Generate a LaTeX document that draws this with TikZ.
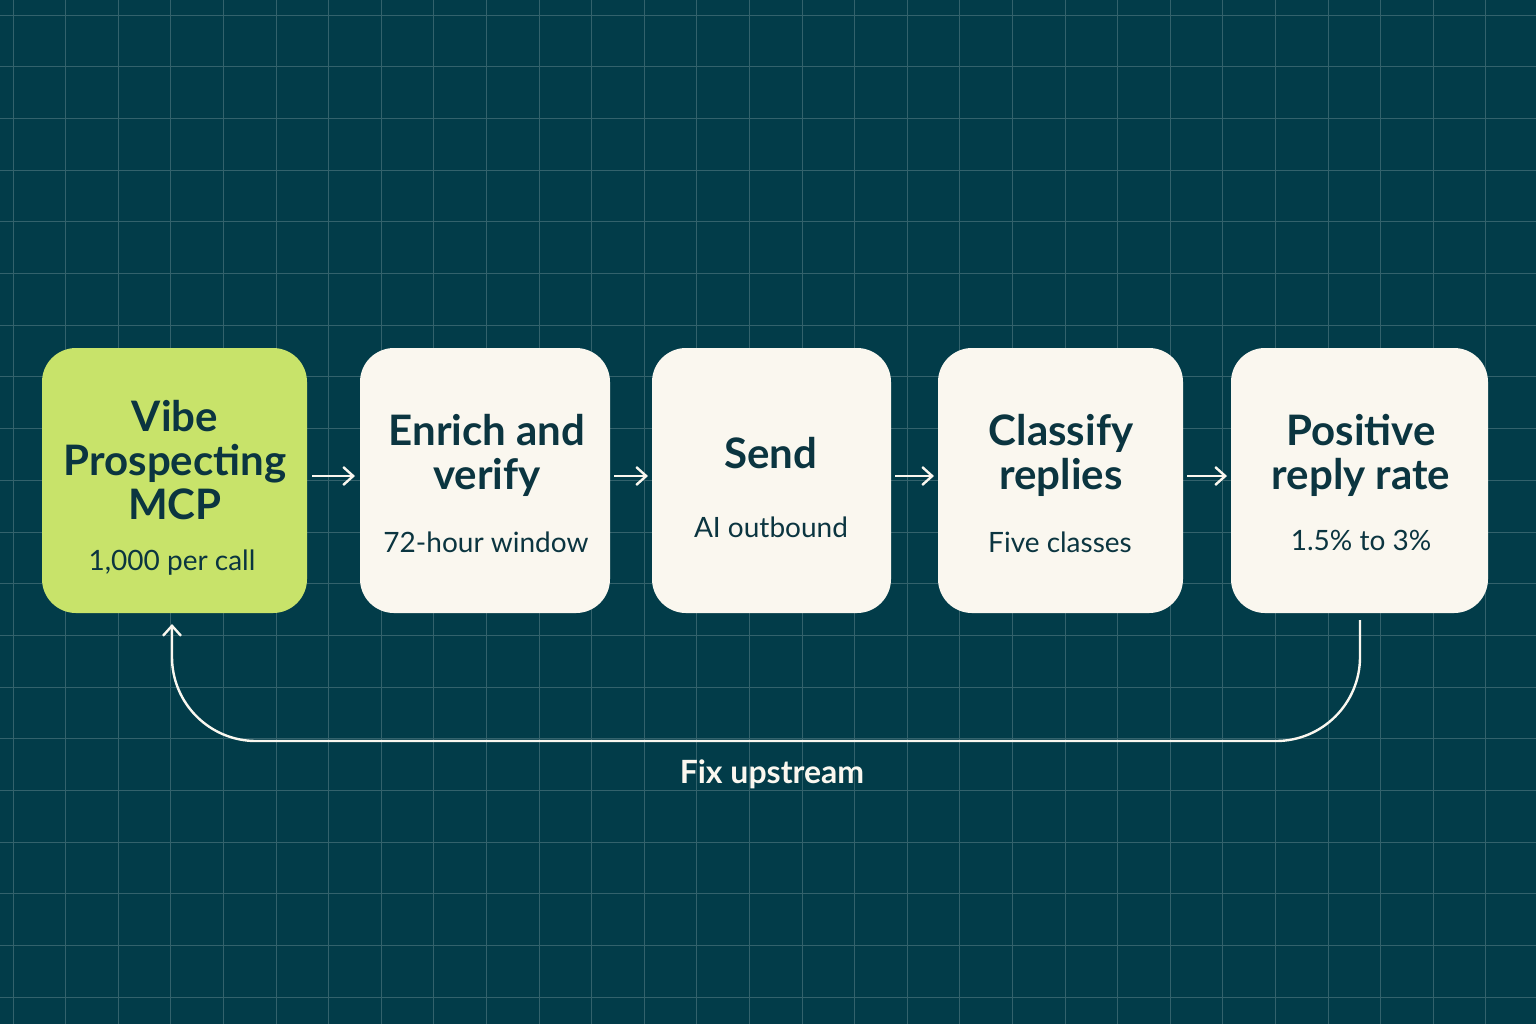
\documentclass[tikz,border=0pt]{standalone}
\usepackage{fontspec}
\setmainfont{Lato}
\usetikzlibrary{arrows.meta}
\definecolor{bg}{HTML}{023C49}
\definecolor{gridc}{HTML}{33626C}
\definecolor{cream}{HTML}{FAF7EF}
\definecolor{lime}{HTML}{C8E36A}
\definecolor{ink}{HTML}{0B3540}
\begin{document}
\begin{tikzpicture}[x=0.5pt,y=-0.5pt,
  box/.style={draw=none,fill=cream,rounded corners=17pt,inner sep=0pt},
  ttl/.style={font=\fontsize{21}{22}\selectfont\bfseries,text=ink,align=center},
  sub/.style={font=\fontsize{14}{16}\selectfont,text=ink,align=center},
  arr/.style={draw=cream,line width=1.2pt,-{Straight Barb[length=5pt,width=9pt]}}]
\fill[bg] (0,0) rectangle (1536,1024);
\useasboundingbox (0,0) rectangle (1536,1024);
\foreach \i in {0,...,29} \draw[gridc,line width=0.5pt] (13+52.6*\i,0) -- (13+52.6*\i,1024);
\foreach \j in {0,...,19} \draw[gridc,line width=0.5pt] (0,15+51.7*\j) -- (1536,15+51.7*\j);
\path[box,fill=lime] (42,348) rectangle (307,613);
\path[box] (360,348) rectangle (610,613);
\path[box] (652,348) rectangle (891,613);
\path[box] (938,348) rectangle (1183,613);
\path[box] (1231,348) rectangle (1488,613);
\node[ttl] (t1) at (175,460) {Vibe\\Prospecting\\MCP};
\node[sub] (s1) at (172,563) {1,000 per call};
\node[ttl] (t2) at (487,455) {Enrich and\\verify};
\node[sub] (s2) at (486,542) {72-hour window};
\node[ttl] (t3) at (771,453) {Send};
\node[sub] (s3) at (771,527) {AI outbound};
\node[ttl] (t4) at (1061,455) {Classify\\replies};
\node[sub] (s4) at (1060,542) {Five classes};
\node[ttl] (t5) at (1361,455) {Positive\\reply rate};
\node[sub] (s5) at (1361,540) {1.5\% to 3\%};
\coordinate (a1) at (312,476); \coordinate (b1) at (355,476);
\coordinate (a2) at (614,476); \coordinate (b2) at (648,476);
\coordinate (a3) at (895,476); \coordinate (b3) at (934,476);
\coordinate (a4) at (1187,476); \coordinate (b4) at (1227,476);
\draw[arr] (a1) -- (b1);
\draw[arr] (a2) -- (b2);
\draw[arr] (a3) -- (b3);
\draw[arr] (a4) -- (b4);
\coordinate (f0) at (1360,620);
\coordinate (f1) at (172,624);
\draw[arr,rounded corners=42pt] (f0) -- (1360,741) -- (172,741) -- (f1);
\node[font=\fontsize{16}{18}\selectfont\bfseries,text=cream] (fx) at (772,774) {Fix upstream};
\end{tikzpicture}
\end{document}
